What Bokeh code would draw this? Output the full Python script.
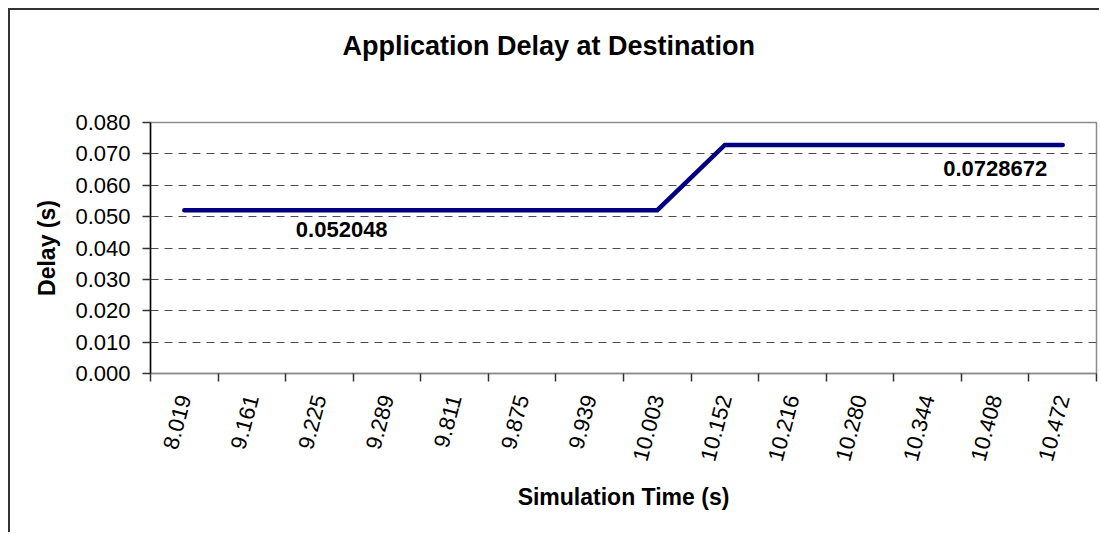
from bokeh.plotting import figure
from bokeh.models import FixedTicker, Label, Range1d, NumeralTickFormatter, Title
from bokeh.embed import file_html
from bokeh.resources import INLINE
import math

# ---- data ----
times = ["8.019", "9.161", "9.225", "9.289", "9.811", "9.875", "9.939",
         "10.003", "10.152", "10.216", "10.280", "10.344", "10.408", "10.472"]
delay = [0.052048, 0.052048, 0.052048, 0.052048, 0.052048, 0.052048, 0.052048,
         0.052048, 0.0728672, 0.0728672, 0.0728672, 0.0728672, 0.0728672, 0.0728672]
y_ticks = [0.000, 0.010, 0.020, 0.030, 0.040, 0.050, 0.060, 0.070, 0.080]
label_texts = ["0.052048", "0.0728672"]
label_values = [0.052048, 0.0728672]

FONT = "Liberation Sans"
n = len(times)
xc = [i + 0.5 for i in range(n)]

p = figure(width=1091, height=524, output_backend="svg", toolbar_location=None,
           x_range=Range1d(0, n), y_range=Range1d(y_ticks[0], y_ticks[-1]),
           min_border_left=140, min_border_right=5, min_border_top=112,
           min_border_bottom=161, title=None)
p.styles = {"margin-left": "8px", "margin-top": "8px",
            "border-top": "2px solid #333333", "border-left": "2px solid #333333"}
p.background_fill_color = "white"
p.border_fill_color = "white"
p.outline_line_color = "#8c8c8c"
p.outline_line_width = 1.5

# spacer between frame and chart title (first "above" item sits next to the frame)
p.add_layout(Title(text=" ", text_font_size="1px", standoff=54), "above")
# chart title
title = Title(text="Application Delay at Destination", align="left", offset=192,
              text_font=FONT, text_font_style="bold", text_font_size="27px",
              text_color="black", standoff=10)
p.add_layout(title, "above")

# grid
p.xgrid.visible = False
p.ygrid.ticker = FixedTicker(ticks=y_ticks[1:-1])
p.ygrid.grid_line_color = "#4d4d4d"
p.ygrid.grid_line_dash = "8 6"
p.ygrid.grid_line_width = 1

# y axis
p.yaxis.ticker = FixedTicker(ticks=y_ticks)
p.yaxis.formatter = NumeralTickFormatter(format="0.000")
p.yaxis.axis_label = "Delay (s)"
p.yaxis.axis_label_text_font = FONT
p.yaxis.axis_label_text_font_style = "bold"
p.yaxis.axis_label_text_font_size = "23px"
p.yaxis.axis_label_text_color = "black"
p.yaxis.axis_label_standoff = 12
p.yaxis.major_label_text_font = FONT
p.yaxis.major_label_text_font_size = "22px"
p.yaxis.major_label_text_color = "black"
p.yaxis.major_label_standoff = 12
p.yaxis.axis_line_color = "black"
p.yaxis.axis_line_width = 1.5
p.yaxis.major_tick_line_color = "#333333"
p.yaxis.major_tick_line_width = 1.5
p.yaxis.major_tick_out = 8
p.yaxis.major_tick_in = 0
p.yaxis.minor_tick_line_color = None

# x axis (ticks on category boundaries, labels at centres)
p.xaxis.ticker = FixedTicker(ticks=xc, minor_ticks=list(range(n + 1)))
p.xaxis.major_label_overrides = {c: t for c, t in zip(xc, times)}
p.xaxis.major_label_orientation = math.radians(75)
p.xaxis.major_label_text_font = FONT
p.xaxis.major_label_text_font_size = "22px"
p.xaxis.major_label_text_color = "black"
p.xaxis.major_label_standoff = 14
p.xaxis.major_tick_line_color = None
p.xaxis.major_tick_out = 8
p.xaxis.major_tick_in = 0
p.xaxis.minor_tick_line_color = "#333333"
p.xaxis.minor_tick_line_width = 1.5
p.xaxis.minor_tick_out = 8
p.xaxis.minor_tick_in = 0
p.xaxis.axis_line_color = "#8c8c8c"
p.xaxis.axis_line_width = 1.5
p.xaxis.axis_label = "Simulation Time (s)"
p.xaxis.axis_label_text_font = FONT
p.xaxis.axis_label_text_font_style = "bold"
p.xaxis.axis_label_text_font_size = "23px"
p.xaxis.axis_label_text_color = "black"
p.xaxis.axis_label_standoff = 17

# series
p.line(xc, delay, line_color="#000080", line_width=4.5, line_cap="round", line_join="miter")

# data labels
p.add_layout(Label(x=2.83, y=label_values[0], y_offset=-19, text=label_texts[0],
                   text_font=FONT, text_font_style="bold", text_font_size="22px",
                   text_align="center", text_baseline="alphabetic", text_color="black"))
p.add_layout(Label(x=xc[12], y=label_values[1], y_offset=-24, text=label_texts[1],
                   text_font=FONT, text_font_style="bold", text_font_size="22px",
                   text_align="center", text_baseline="alphabetic", text_color="black"))

open("out.html", "w").write(file_html(p, INLINE))
